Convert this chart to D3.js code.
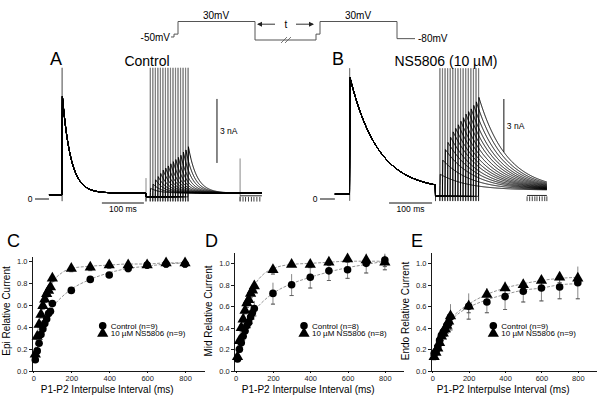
<!doctype html>
<html lang="en">
<head>
<meta charset="utf-8">
<title>NS5806 recovery from inactivation</title>
<style>
body { margin: 0; background: #fff; }
svg { display: block; font-family: Arial, "Liberation Sans", sans-serif; }
.axis path, .axis line { stroke: #000; stroke-width: 0.9; shape-rendering: crispEdges; }
.axis text { font-size: 7.5px; fill: #222; font-family: Arial, "Liberation Sans", sans-serif; }
</style>
</head>
<body>
<svg id="fig" width="600" height="403"></svg>
<script src="https://d3js.org/d3.v7.min.js"></script>
<script>

// ---- summary data (panels C, D, E) ----
var intervals = [10, 20, 30, 40, 50, 60, 70, 80, 90, 100, 200, 300, 400, 500, 600, 700, 800];

var epiCtl    = [0.10, 0.18, 0.25, 0.33, 0.38, 0.43, 0.47, 0.52, 0.54, 0.61, 0.73, 0.83, 0.87, 0.93, 0.96, 0.97, 0.97];
var epiCtlErr = [0.01, 0.01, 0.02, 0.02, 0.02, 0.02, 0.02, 0.02, 0.02, 0.02, 0.02, 0.02, 0.02, 0.03, 0.03, 0.03, 0.03];
var epiNS     = [0.15, 0.31, 0.42, 0.51, 0.59, 0.65, 0.70, 0.73, 0.76, 0.84, 0.93, 0.94, 0.96, 0.96, 0.96, 0.98, 0.98];
var epiNSErr  = [0.01, 0.02, 0.03, 0.03, 0.03, 0.03, 0.03, 0.04, 0.04, 0.03, 0.03, 0.03, 0.03, 0.02, 0.02, 0.02, 0.02];

var midCtl    = [0.11, 0.20, 0.26, 0.32, 0.37, 0.42, 0.45, 0.50, 0.54, 0.58, 0.72, 0.80, 0.87, 0.93, 0.94, 1.00, 1.03];
var midCtlErr = [0.02, 0.03, 0.04, 0.04, 0.05, 0.05, 0.05, 0.06, 0.06, 0.07, 0.10, 0.10, 0.10, 0.09, 0.08, 0.09, 0.06];
var midNS     = [0.13, 0.28, 0.40, 0.48, 0.56, 0.63, 0.66, 0.72, 0.75, 0.79, 0.94, 0.99, 0.99, 1.01, 1.04, 1.03, 1.01];
var midNSErr  = [0.02, 0.02, 0.03, 0.03, 0.03, 0.04, 0.04, 0.04, 0.04, 0.04, 0.04, 0.02, 0.03, 0.03, 0.03, 0.03, 0.07];

var endoCtl    = [0.16, 0.18, 0.22, 0.28, 0.33, 0.36, 0.38, 0.42, 0.44, 0.50, 0.60, 0.64, 0.69, 0.74, 0.77, 0.78, 0.82];
var endoCtlErr = [0.02, 0.03, 0.04, 0.04, 0.05, 0.06, 0.06, 0.07, 0.08, 0.12, 0.12, 0.10, 0.12, 0.10, 0.12, 0.11, 0.15];
var endoNS     = [0.13, 0.17, 0.21, 0.26, 0.32, 0.35, 0.39, 0.42, 0.46, 0.51, 0.60, 0.71, 0.77, 0.80, 0.84, 0.87, 0.86];
var endoNSErr  = [0.03, 0.03, 0.03, 0.03, 0.04, 0.04, 0.04, 0.04, 0.04, 0.05, 0.06, 0.06, 0.06, 0.05, 0.05, 0.05, 0.05];

// fitted curves at these intervals
var fitX       = [5, 25, 50, 75, 100, 150, 200, 300, 400, 500, 600, 700, 800];
var epiCtlFit  = [0.08, 0.24, 0.38, 0.48, 0.57, 0.67, 0.74, 0.83, 0.89, 0.93, 0.95, 0.97, 0.98];
var epiNSFit   = [0.15, 0.38, 0.57, 0.71, 0.80, 0.89, 0.93, 0.95, 0.96, 0.97, 0.97, 0.98, 0.98];
var midCtlFit  = [0.10, 0.24, 0.36, 0.46, 0.55, 0.65, 0.72, 0.81, 0.87, 0.92, 0.96, 0.99, 1.02];
var midNSFit   = [0.14, 0.36, 0.55, 0.69, 0.79, 0.90, 0.95, 0.99, 1.00, 1.01, 1.02, 1.02, 1.02];
var endoCtlFit = [0.13, 0.22, 0.32, 0.40, 0.46, 0.54, 0.59, 0.66, 0.71, 0.75, 0.77, 0.80, 0.81];
var endoNSFit  = [0.12, 0.22, 0.33, 0.42, 0.48, 0.56, 0.62, 0.71, 0.77, 0.81, 0.84, 0.86, 0.87];

var yTicks = [0, 0.2, 0.4, 0.6, 0.8, 1.0];
var xTicks = [0, 200, 400, 600, 800];

// ---- current traces (panels A, B) ----
var sweepIv = [10, 16, 22, 28, 34, 40, 46, 52, 58, 64, 70, 76, 82, 88, 94, 100];   // ms between P1 and P2
var peakCtl = [0.5, 0.7, 0.9, 1.05, 1.2, 1.35, 1.45, 1.55, 1.65, 1.75, 1.85, 1.95, 2.05, 2.2, 2.3, 2.45];   // nA
var peakNS  = [1.4, 2.2, 2.8, 3.2, 3.5, 3.8, 4.0, 4.2, 4.4, 4.6, 4.8, 4.95, 5.1, 5.3, 5.5, 5.75];           // nA
var endsCtl = [424, 431, 437, 444, 451, 457, 464, 471];        // ms, end of P2 step
var endsNS  = [413, 419, 425, 431, 436, 442, 448, 454, 459];

// voltage protocol (schematic)
var protoT = [0, 3, 3, 7, 7, 84, 84, 145, 145, 149, 149, 226, 226, 244];
var protoV = [-62, -62, -45, -45, 30, 30, -80, -80, -45, -45, 30, 30, -72, -72];

var svg = d3.select("#fig");

// ---------- protocol ----------
var xP = d3.scaleLinear().domain([0, 244]).range([171, 415]);
var yP = d3.scaleLinear().domain([-80, 30]).range([40, 21.5]);
var gP = svg.append("g");
gP.append("path")
  .datum(d3.zip(protoT, protoV))
  .attr("d", d3.line().x(function(d) { return xP(d[0]); }).y(function(d) { return yP(d[1]); }))
  .attr("fill", "none").attr("stroke", "#555").attr("stroke-width", 1);

// interval arrows
var ya = yP(14);
gP.append("line").attr("x1", xP(87)).attr("x2", xP(104)).attr("y1", ya).attr("y2", ya).attr("stroke", "#333");
gP.append("line").attr("x1", xP(125)).attr("x2", xP(142)).attr("y1", ya).attr("y2", ya).attr("stroke", "#333");
gP.append("path").attr("d", "M" + xP(86) + "," + ya + "l5,-2.5v5z").attr("fill", "#222");
gP.append("path").attr("d", "M" + xP(143) + "," + ya + "l-5,-2.5v5z").attr("fill", "#222");
gP.append("text").attr("x", xP(115)).attr("y", ya + 3.5).attr("text-anchor", "middle")
  .style("font-size", "10px").text("t");
// break marks on the interval
[110, 114].forEach(function(t) {
  gP.append("line").attr("x1", xP(t)).attr("y1", yP(-80) + 3).attr("x2", xP(t) + 6).attr("y2", yP(-80) - 3)
    .attr("stroke", "#555").attr("stroke-width", 0.8);
});
gP.append("text").attr("x", xP(-1)).attr("y", yP(-62) + 4).attr("text-anchor", "end")
  .style("font-size", "10px").text("-50mV");
gP.append("text").attr("x", xP(45)).attr("y", yP(30) - 2.5).attr("text-anchor", "middle")
  .style("font-size", "10px").text("30mV");
gP.append("text").attr("x", xP(187)).attr("y", yP(30) - 2.5).attr("text-anchor", "middle")
  .style("font-size", "10px").text("30mV");
gP.append("text").attr("x", xP(247)).attr("y", yP(-72) + 3.5)
  .style("font-size", "10px").text("-80mV");

// ---------- traces ----------
var tracePanels = [
  { letter: "A", title: "Control", peaks: peakCtl, ends: endsCtl,
    x: d3.scaleLinear().domain([0, 100]).range([62, 104]),
    y: d3.scaleLinear().domain([0, 3]).range([199, 135]),
    hold: 0.2, p1Peak: 4.8, p1Tau: 20, ss: 0.28, ivI: 0.1, p2Tau: 20, t0: -31, t1: 476, clip: 6.15,
    endSpike: 1.9, p1EndSpike: 0.98,
    letterX: 50, titleX: 147, barT: 369, barI: 1.69, hbarT: 95, zeroX: 30 },
  { letter: "B", title: "NS5806 (10 \u00b5M)", peaks: peakNS, ends: endsNS,
    x: d3.scaleLinear().domain([0, 100]).range([349.5, 392.5]),
    y: d3.scaleLinear().domain([0, 3]).range([199, 146]),
    hold: 0.28, p1Peak: 6.9, p1Tau: 65, ss: 0.5, ivI: 0.15, p2Tau: 65, t0: -34, t1: 459, clip: 7.4,
    endSpike: null, p1EndSpike: null,
    letterX: 332, titleX: 446, barT: 359, barI: 2.66, hbarT: 92, zeroX: 315 }
];

function current(p, t, onset, pk) {
  if (t < 0) return p.hold;
  if (t < 1) return p.hold + (p.p1Peak - p.hold) * t;
  if (t < 200) return p.ss + (p.p1Peak - p.ss) * Math.exp(-(t - 1) / p.p1Tau);
  if (t < onset) return p.ivI;
  if (t < onset + 1) return p.ivI + (pk - p.ivI) * (t - onset);
  return p.ss + (pk - p.ss) * Math.exp(-(t - onset - 1) / p.p2Tau);
}

tracePanels.forEach(function(p) {
  var g = svg.append("g");
  var x = p.x, y = p.y;
  var yTop = y(p.clip);

  // capacitive transients (grey)
  var gray = [0, 0.6].map(function(t) { return { t: t, top: yTop }; });
  sweepIv.forEach(function(iv) { gray.push({ t: 200 + iv, top: yTop }); gray.push({ t: 200 + iv + 0.5, top: yTop }); });
  if (p.p1EndSpike) gray.push({ t: 200, top: y(p.p1EndSpike) });
  if (p.endSpike) gray.push({ t: p.ends[0], top: y(p.endSpike) });
  g.selectAll("line.tr").data(gray).enter().append("line")
    .attr("x1", function(d) { return x(d.t); }).attr("x2", function(d) { return x(d.t); })
    .attr("y1", y(-0.1)).attr("y2", function(d) { return d.top; })
    .attr("stroke", "#7a7a7a").attr("stroke-width", 0.9);

  var line = d3.line().x(function(d) { return x(d[0]); }).y(function(d) { return Math.max(yTop, y(d[1])); });
  sweepIv.forEach(function(iv, k) {
    var onset = 200 + iv, pts = [];
    for (var t = p.t0; t <= p.t1; t += 0.5) pts.push([t, current(p, t, onset, p.peaks[k])]);
    g.append("path").datum(pts).attr("d", line)
      .attr("fill", "none").attr("stroke", "#000").attr("stroke-width", 1);
  });

  // small downward ticks at step onsets / ends
  var ticks = sweepIv.map(function(iv) { return 200 + iv; }).concat(p.ends, [200]);
  g.selectAll("line.tk").data(ticks).enter().append("line")
    .attr("x1", function(d) { return x(d); }).attr("x2", function(d) { return x(d); })
    .attr("y1", y(p.ivI)).attr("y2", y(-0.12))
    .attr("stroke", "#111").attr("stroke-width", 0.8);
  g.append("line").attr("x1", x(p.ends[0])).attr("x2", x(p.t1))
    .attr("y1", y(p.ivI + 0.05)).attr("y2", y(p.ivI + 0.05)).attr("stroke", "#111").attr("stroke-width", 0.9);

  // zero line
  g.append("line").attr("x1", p.zeroX + 5).attr("x2", x(p.t0)).attr("y1", y(0)).attr("y2", y(0))
    .attr("stroke", "#111").attr("stroke-width", 1);
  g.append("text").attr("x", p.zeroX).attr("y", y(0) + 3).attr("text-anchor", "middle")
    .style("font-size", "8.5px").text("0");

  // scale bars
  g.append("line").attr("x1", x(p.barT)).attr("x2", x(p.barT)).attr("y1", y(p.barI)).attr("y2", y(p.barI + 3))
    .attr("stroke", "#111").attr("stroke-width", 1);
  g.append("text").attr("x", x(p.barT) + 3).attr("y", y(p.barI + 1.5) + 3)
    .style("font-size", "8.5px").text("3 nA");
  g.append("line").attr("x1", x(p.hbarT)).attr("x2", x(p.hbarT + 100)).attr("y1", y(0) + 4).attr("y2", y(0) + 4)
    .attr("stroke", "#111").attr("stroke-width", 1);
  g.append("text").attr("x", x(p.hbarT + 50)).attr("y", y(0) + 13).attr("text-anchor", "middle")
    .style("font-size", "8.5px").text("100 ms");

  g.append("text").attr("x", p.letterX).attr("y", 65).style("font-size", "18px").text(p.letter);
  g.append("text").attr("x", p.titleX).attr("y", 66).attr("text-anchor", "middle")
    .style("font-size", "14px").text(p.title);
});

// ---------- summary panels ----------
var panels = [
  { letter: "C", ylab: "Epi Relative Current", ctl: epiCtl, ctlErr: epiCtlErr, ns: epiNS, nsErr: epiNSErr,
    ctlFit: epiCtlFit, nsFit: epiNSFit, n1: 9, n2: 9, xr: [31.5, 204], ymax: 1.04, ytop: 256.3,
    letterX: 7, ylabX: 10, legX: 102.7 },
  { letter: "D", ylab: "Mid Relative Current", ctl: midCtl, ctlErr: midCtlErr, ns: midNS, nsErr: midNSErr,
    ctlFit: midCtlFit, nsFit: midNSFit, n1: 8, n2: 8, xr: [233.8, 403.5], ymax: 1.1, ytop: 252.6,
    letterX: 205, ylabX: 212, legX: 304 },
  { letter: "E", ylab: "Endo Relative Current", ctl: endoCtl, ctlErr: endoCtlErr, ns: endoNS, nsErr: endoNSErr,
    ctlFit: endoCtlFit, nsFit: endoNSFit, n1: 9, n2: 9, xr: [430.5, 596], ymax: 1.1, ytop: 252.6,
    letterX: 411, ylabX: 409, legX: 493.3 }
];

var tri = d3.symbol().type(d3.symbolTriangle).size(55);

panels.forEach(function(p) {
  var g = svg.append("g");
  var x = d3.scaleLinear().domain([-10, 900]).range(p.xr);
  var y = d3.scaleLinear().domain([0, p.ymax]).range([370.7, p.ytop]);

  g.append("g").attr("class", "axis").attr("transform", "translate(0," + y(0) + ")")
    .call(d3.axisBottom(x).tickValues(xTicks).tickSize(2.5).tickPadding(2.5).tickSizeOuter(0));
  g.append("g").attr("class", "axis").attr("transform", "translate(" + p.xr[0] + ",0)")
    .call(d3.axisLeft(y).tickValues(yTicks).tickFormat(d3.format(".1f")).tickSize(2.5).tickPadding(1.5).tickSizeOuter(0));

  var fitLine = d3.line().curve(d3.curveMonotoneX)
    .x(function(d) { return x(d[0]); }).y(function(d) { return y(d[1]); });
  [p.ctlFit, p.nsFit].forEach(function(f) {
    g.append("path").datum(d3.zip(fitX, f)).attr("d", fitLine)
      .attr("fill", "none").attr("stroke", "#777").attr("stroke-width", 0.8).attr("stroke-dasharray", "3,1.5");
  });

  function errBars(vals, errs) {
    var d = d3.zip(intervals, vals, errs);
    var eg = g.append("g").attr("stroke", "#555").attr("stroke-width", 0.7);
    eg.selectAll("line.v").data(d).enter().append("line")
      .attr("x1", function(d) { return x(d[0]); }).attr("x2", function(d) { return x(d[0]); })
      .attr("y1", function(d) { return y(d[1] - d[2]); }).attr("y2", function(d) { return y(d[1] + d[2]); });
    eg.selectAll("line.c").data(d.concat(d)).enter().append("line")
      .attr("x1", function(d) { return x(d[0]) - 2; }).attr("x2", function(d) { return x(d[0]) + 2; })
      .attr("y1", function(d, i) { return y(d[1] + (i < d.length ? d[2] : -d[2])); })
      .attr("y2", function(d, i) { return y(d[1] + (i < d.length ? d[2] : -d[2])); });
  }
  errBars(p.ctl, p.ctlErr);
  errBars(p.ns, p.nsErr);

  g.selectAll("circle.pt").data(d3.zip(intervals, p.ctl)).enter().append("circle")
    .attr("cx", function(d) { return x(d[0]); }).attr("cy", function(d) { return y(d[1]); })
    .attr("r", 3.8).attr("fill", "#000");
  g.selectAll("path.pt").data(d3.zip(intervals, p.ns)).enter().append("path")
    .attr("d", tri).attr("fill", "#000")
    .attr("transform", function(d) { return "translate(" + x(d[0]) + "," + y(d[1]) + ")"; });

  // legend
  g.append("circle").attr("cx", p.legX).attr("cy", 325.7).attr("r", 3.8).attr("fill", "#000");
  g.append("path").attr("d", tri).attr("fill", "#000").attr("transform", "translate(" + p.legX + ",333.5)");
  g.append("text").attr("x", p.legX + 8).attr("y", 328.5).style("font-size", "8px").text("Control (n=" + p.n1 + ")");
  g.append("text").attr("x", p.legX + 8).attr("y", 336).style("font-size", "8px").text("10 \u00b5M NS5806 (n=" + p.n2 + ")");

  g.append("text").attr("x", p.letterX).attr("y", 247).style("font-size", "18px").text(p.letter);
  g.append("text").attr("transform", "translate(" + p.ylabX + ",311) rotate(-90)").attr("text-anchor", "middle")
    .style("font-size", "10px").text(p.ylab);
  g.append("text").attr("x", x(400) - 2).attr("y", 392.5).attr("text-anchor", "middle")
    .style("font-size", "10px").text("P1-P2 Interpulse Interval (ms)");
});

</script>
</body>
</html>
